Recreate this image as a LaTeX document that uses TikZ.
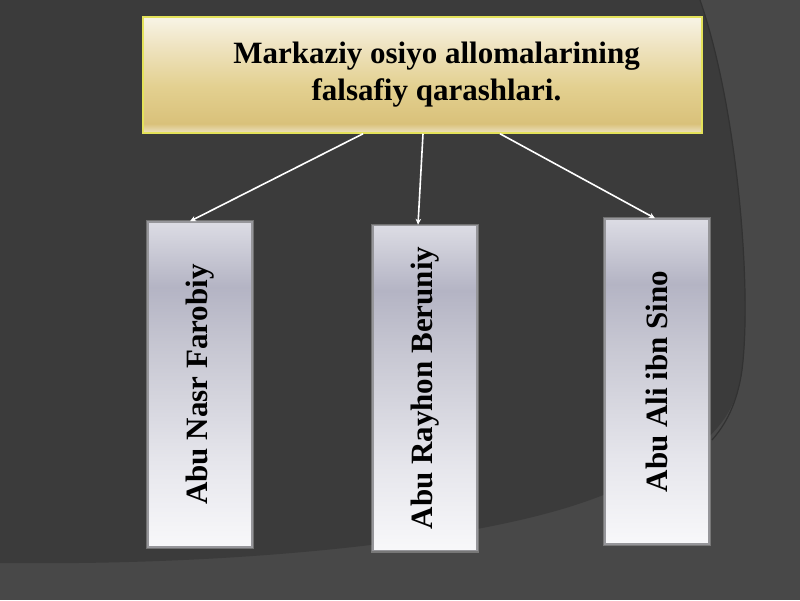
\documentclass[tikz,border=0pt]{standalone}
\usepackage{fontspec}
\setmainfont{Liberation Serif}
\usetikzlibrary{positioning, arrows.meta, shadows}

\definecolor{bgdark}{HTML}{3B3B3B}
\definecolor{bglight}{HTML}{484848}
\definecolor{bgline}{HTML}{323232}
\definecolor{goldedge}{HTML}{E4E25A}
\definecolor{silveredge}{HTML}{96969A}
\definecolor{goldA}{HTML}{F8F4E6}
\definecolor{goldB}{HTML}{EFE4C2}
\definecolor{goldC}{HTML}{E3D090}
\definecolor{goldD}{HTML}{D9C17A}
\definecolor{goldE}{HTML}{EDE2C2}
\definecolor{silverA}{HTML}{DCDCE4}
\definecolor{silverB}{HTML}{B4B4C4}
\definecolor{silverC}{HTML}{C8C8D3}
\definecolor{silverD}{HTML}{E6E6EC}
\definecolor{silverE}{HTML}{F8F8FA}

% gradients (stops between 25bp and 75bp fill the node)
\pgfdeclareverticalshading{goldbar}{100bp}{color(0bp)=(goldE); color(25bp)=(goldE); color(29bp)=(goldD);
  color(45bp)=(goldC); color(63bp)=(goldB); color(75bp)=(goldA); color(100bp)=(goldA)}
\pgfdeclareverticalshading{silverbar}{100bp}{color(0bp)=(silverE); color(25bp)=(silverE); color(38bp)=(silverD);
  color(55bp)=(silverC); color(65bp)=(silverB); color(75bp)=(silverA); color(100bp)=(silverA)}

\begin{document}
\begin{tikzpicture}[
    x=1pt, y=-1pt,
    title/.style={rectangle, minimum width=559, minimum height=116, inner sep=0, text centered, draw=goldedge, line width=1.5pt, shading=goldbar, font=\fontsize{31}{37}\selectfont\bfseries},
    namebox/.style={rectangle, minimum width=104, minimum height=325, inner sep=0, text centered, draw=silveredge, line width=1.5pt, shading=silverbar, font=\fontsize{31}{37}\selectfont\bfseries,
        preaction={draw=gray!70, line width=4pt, opacity=0.5}},
    arrow/.style={white, line width=1.6pt, -{Stealth[length=6pt, width=5.5pt]}, shorten >=0pt},
]
\useasboundingbox (0,0) rectangle (800,600);

% Background
\fill[bglight] (0,0) rectangle (800,600);
\fill[bgdark] (0,0) -- (700,0) .. controls (738,110) and (752,290) .. (742,370)
    .. controls (735,425) and (700,460) .. (590,500) .. controls (480,540) and (250,566) .. (0,563) -- cycle;
\draw[bgline, line width=1.2pt] (700,0) .. controls (738,110) and (752,290) .. (742,370) .. controls (737,405) and (725,425) .. (712,440);

% Nodes
\node[title] (theme) at (422.5,75) {\hspace*{28pt}\begin{tabular}{@{}c@{}}Markaziy osiyo allomalarining\\falsafiy qarashlari.\end{tabular}};
\node[namebox] (farobiy) at (200,384.5) {\rotatebox{90}{Abu Nasr Farobiy}};
\node[namebox] (beruniy) at (425,388) {\rotatebox{90}{Abu Rayhon Beruniy}};
\node[namebox] (sino) at (657,381.5) {\rotatebox{90}{Abu Ali ibn Sino}};

% Connections
\draw[arrow] ([xshift=-59.5]theme.south) -- ([xshift=-10]farobiy.north);
\draw[arrow] ([xshift=0.5]theme.south) -- ([xshift=-7]beruniy.north);
\draw[arrow] ([xshift=77.5]theme.south) -- ([xshift=-2]sino.north);

\end{tikzpicture}
\end{document}
